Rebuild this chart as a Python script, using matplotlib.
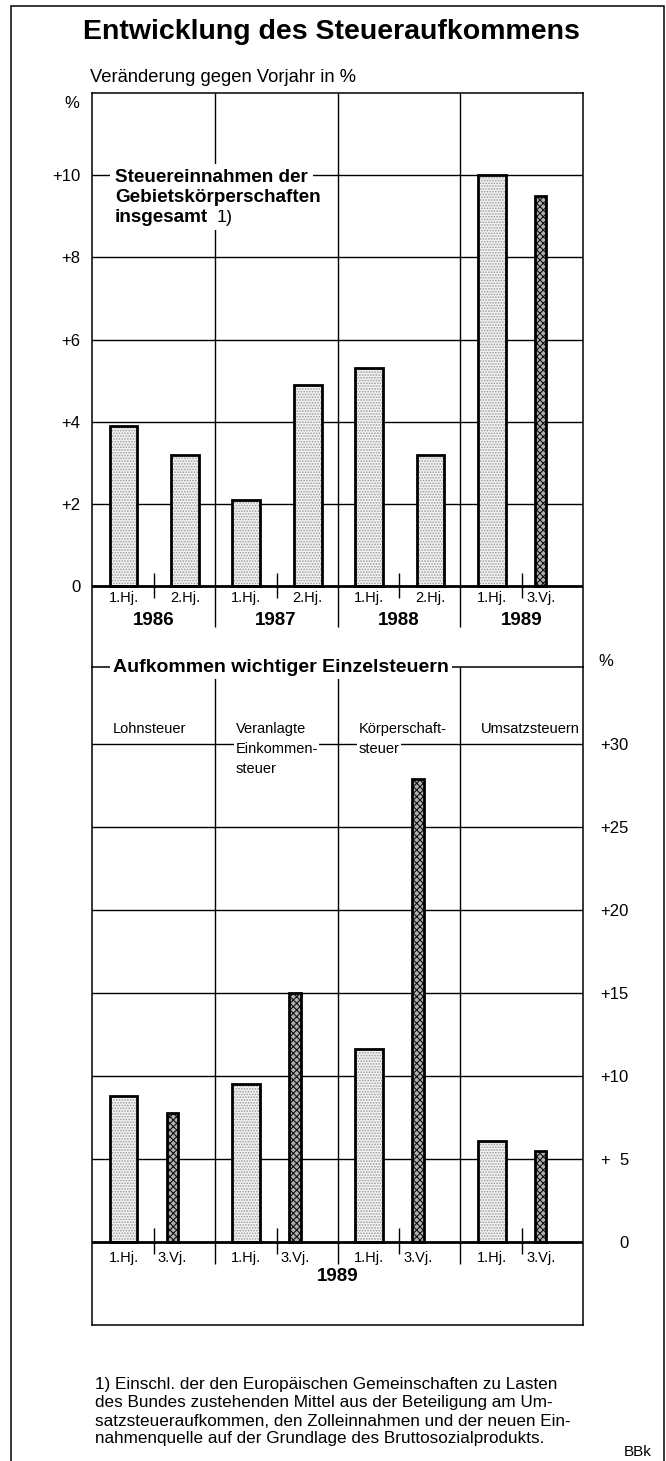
"""Entwicklung des Steueraufkommens - two-panel bar chart (BBk style)."""

import matplotlib
matplotlib.use("Agg")
import matplotlib.pyplot as plt
from matplotlib import font_manager
from matplotlib.patches import Rectangle

# --- data -----------------------------------------------------------------
top_years = ["1986", "1987", "1988", "1989"]
top_first = [3.9, 2.1, 5.3, 10.0]          # 1. Halbjahr
top_second = [3.2, 4.9, 3.2, 9.5]          # 2. Halbjahr / 3. Vierteljahr 1989
top_second_labels = ["2.Hj.", "2.Hj.", "2.Hj.", "3.Vj."]
top_yticks = [0, 2, 4, 6, 8, 10]
top_yticklabels = ["0", "+2", "+4", "+6", "+8", "+10"]

bottom_cats = ["Lohnsteuer", "Veranlagte\nEinkommen-\nsteuer",
               "Körperschaft-\nsteuer", "Umsatzsteuern"]
bottom_h1 = [8.8, 9.5, 11.6, 6.1]         # 1.Hj. 1989
bottom_q3 = [7.8, 15.0, 27.9, 5.5]        # 3.Vj. 1989
bottom_yticks = [0, 5, 10, 15, 20, 25, 30]
bottom_yticklabels = ["0", "+  5", "+10", "+15", "+20", "+25", "+30"]

footnote = ["1) Einschl. der den Europäischen Gemeinschaften zu Lasten",
            "des Bundes zustehenden Mittel aus der Beteiligung am Um-",
            "satzsteueraufkommen, den Zolleinnahmen und der neuen Ein-",
            "nahmenquelle auf der Grundlage des Bruttosozialprodukts."]

# --- fonts ----------------------------------------------------------------
def has_font(name):
    try:
        font_manager.findfont(name, fallback_to_default=False)
        return True
    except Exception:
        return False

SANS = "Liberation Sans"
NARROW = "Liberation Sans Narrow" if has_font("Liberation Sans Narrow") else SANS
plt.rcParams["font.family"] = [SANS, "DejaVu Sans"]
plt.rcParams["hatch.linewidth"] = 0.8

W, H = 666, 1461
fig = plt.figure(figsize=(W / 100, H / 100), dpi=100)


def fx(px):
    return px / W


def fy(py):
    return 1 - py / H


# bar layout inside one group (fraction of group width)
P1, P2, PQ, PT = 0.257, 0.758, 0.655, 0.505
WH, WQ = 0.225, 0.095
LIGHT = dict(facecolor="#f2f2f2", hatch="......", edgecolor="#9a9a9a", linewidth=0)
DARK = dict(facecolor="#b0b0b0", hatch="xxxxx", edgecolor="#111111", linewidth=0)


def draw_bar(ax, x, h, w, style):
    ax.bar(x, h, w, bottom=0, zorder=3, **style)
    ax.bar(x, h, w, bottom=0, zorder=4, fill=False, edgecolor="black", linewidth=2.0)


# --- outer frame & titles ------------------------------------------------
fig.add_artist(Rectangle((fx(11), fy(1470)), fx(664) - fx(11), fy(6) - fy(1470),
                         transform=fig.transFigure, fill=False, lw=1.1, color="black"))
fig.text(fx(331), fy(32), "Entwicklung des Steueraufkommens", ha="center", va="center",
         fontsize=20.5, fontweight="bold")
fig.text(fx(90), fy(78), "Veränderung gegen Vorjahr in %", ha="left", va="center",
         fontsize=13.2)

# --- top panel -----------------------------------------------------------
ZERO1, PPU1 = 586, 41.08
ax1 = fig.add_axes([fx(92), fy(667), fx(583) - fx(92), fy(93) - fy(667)])
ax1.set_xlim(0, 4)
ax1.set_ylim(-(667 - ZERO1) / PPU1, (ZERO1 - 93) / PPU1)
for s in ["left", "right", "top"]:
    ax1.spines[s].set_linewidth(1.1)
ax1.spines["bottom"].set_visible(False)
ax1.set_xticks([])
ax1.set_yticks(top_yticks, top_yticklabels)
ax1.tick_params(axis="y", length=0, pad=8.5, labelsize=12)
for y in top_yticks[1:]:
    ax1.axhline(y, color="black", lw=1.0, zorder=1)
ax1.axhline(0, color="black", lw=2.0, zorder=5)

for i, year in enumerate(top_years):
    draw_bar(ax1, i + P1, top_first[i], WH, LIGHT)
    if top_second_labels[i] == "3.Vj.":
        xs = i + PQ
        draw_bar(ax1, xs, top_second[i], WQ, DARK)
    else:
        xs = i + P2
        draw_bar(ax1, xs, top_second[i], WH, LIGHT)
    ax1.vlines(i + PT, -0.29, 0.32, color="black", lw=1.0, zorder=5)
    ax1.text(i + P1, -0.3, "1.Hj.", ha="center", va="center", fontsize=10.5, family=NARROW)
    ax1.text(xs, -0.3, top_second_labels[i], ha="center", va="center", fontsize=10.5,
             family=NARROW)
    ax1.text(i + 0.5, -0.83, year, ha="center", va="center", fontsize=13.5,
             fontweight="bold")
    if i > 0:
        ax1.vlines(i, -1.0, ax1.get_ylim()[1], color="black", lw=1.0, zorder=1)

fig.text(fx(64), fy(103), "%", ha="left", va="center", fontsize=12)
box = dict(facecolor="white", edgecolor="none", pad=3.5)
fig.text(fx(115), fy(177), "Steuereinnahmen der", ha="left", va="center",
         fontsize=13.6, fontweight="bold", bbox=box)
fig.text(fx(115), fy(197), "Gebietskörperschaften", ha="left", va="center",
         fontsize=13.6, fontweight="bold", bbox=box)
t_ins = fig.text(fx(115), fy(217), "insgesamt", ha="left", va="center",
                 fontsize=13.6, fontweight="bold", bbox=box)
ax1.annotate("1)", xy=(1, 0.5), xycoords=t_ins, xytext=(6, 0),
             textcoords="offset points", ha="left", va="center", fontsize=13,
             zorder=6, bbox=dict(facecolor="white", edgecolor="none", pad=3.5))

# --- bottom panel --------------------------------------------------------
ZERO2, PPU2 = 1242, 16.6
ax2 = fig.add_axes([fx(92), fy(1325), fx(583) - fx(92), fy(667) - fy(1325)])
ax2.set_xlim(0, 4)
ytop2 = (ZERO2 - 667) / PPU2
ax2.set_ylim(-(1325 - ZERO2) / PPU2, ytop2)
for s in ["left", "right", "top", "bottom"]:
    ax2.spines[s].set_linewidth(1.1)
ax2.set_xticks([])
ax2.yaxis.tick_right()
ax2.set_yticks(bottom_yticks, bottom_yticklabels)
ax2.tick_params(axis="y", length=0, pad=33, labelsize=12)
for lab in ax2.get_yticklabels():
    lab.set_horizontalalignment("right")
for y in bottom_yticks[1:]:
    ax2.axhline(y, color="black", lw=1.0, zorder=1)
ax2.axhline(0, color="black", lw=2.0, zorder=5)

for i, cat in enumerate(bottom_cats):
    draw_bar(ax2, i + P1, bottom_h1[i], WH, LIGHT)
    draw_bar(ax2, i + PQ, bottom_q3[i], WQ, DARK)
    ax2.vlines(i + PT, -0.72, 0.84, color="black", lw=1.0, zorder=5)
    ax2.text(i + P1, -0.96, "1.Hj.", ha="center", va="center", fontsize=10.5, family=NARROW)
    ax2.text(i + PQ, -0.96, "3.Vj.", ha="center", va="center", fontsize=10.5, family=NARROW)
    if i > 0:
        top = ytop2 if i == 3 else ytop2 - 0.66
        ax2.vlines(i, -1.33, top, color="black", lw=1.0, zorder=1)
    for k, line in enumerate(cat.split("\n")):
        ax2.text(i + 0.17, 30.9 - k * 1.2, line, ha="left", va="center", fontsize=10.5,
                 family=NARROW, zorder=6,
                 bbox=dict(facecolor="white", edgecolor="none", pad=1.0))
ax2.text(2, -2.05, "1989", ha="center", va="center", fontsize=13.5, fontweight="bold")

fig.text(fx(113), fy(667), "Aufkommen wichtiger Einzelsteuern", ha="left", va="center",
         fontsize=14, fontweight="bold",
         bbox=dict(facecolor="white", edgecolor="none", pad=2.5))
fig.text(fx(598), fy(662), "%", ha="left", va="center", fontsize=12)

# --- footnote ------------------------------------------------------------
for k, line in enumerate(footnote):
    fig.text(fx(95), fy(1385 + k * 18), line, ha="left", va="center", fontsize=12.3)
fig.text(fx(652), fy(1452), "BBk", ha="right", va="center", fontsize=11)

fig.savefig("out.png", dpi=100)
